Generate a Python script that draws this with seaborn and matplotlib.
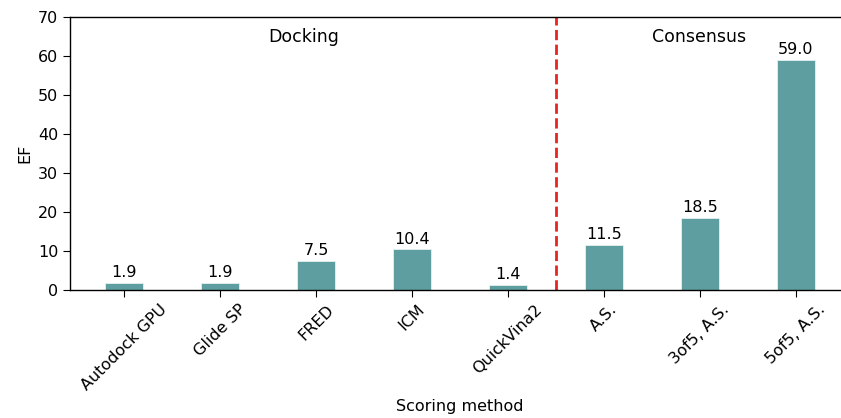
import matplotlib
matplotlib.use("Agg")
import matplotlib.pyplot as plt
import seaborn as sns
import pandas as pd

methods = ["Autodock GPU", "Glide SP", "FRED", "ICM", "QuickVina2",
           "A.S.", "3of5, A.S.", "5of5, A.S."]
ef_values = [1.9, 1.9, 7.5, 10.4, 1.4, 11.5, 18.5, 59.0]
group_labels = ["Docking", "Consensus"]
group_label_x = [1.5, 5.5]

sns.set_style("ticks", {
    "axes.edgecolor": "black",
    "axes.labelcolor": "black",
    "text.color": "black",
    "xtick.color": "black",
    "ytick.color": "black",
})
plt.rcParams["font.family"] = ["DejaVu Sans"]
plt.rcParams["font.size"] = 11.5
plt.rcParams["xtick.major.size"] = 5
plt.rcParams["ytick.major.size"] = 5
plt.rcParams["axes.linewidth"] = 1.0

df = pd.DataFrame({"Scoring method": methods, "EF": ef_values})

fig = plt.figure(figsize=(8.41, 4.18), dpi=100)
ax = fig.add_axes([70 / 841, (418 - 290) / 418, (850 - 70) / 841, 273 / 418])

sns.barplot(data=df, x="Scoring method", y="EF", color="#5f9ea0",
            saturation=1, width=0.4, edgecolor="#e6f0f0", linewidth=0.6, ax=ax)

for cont in ax.containers:
    ax.bar_label(cont, fmt="%.1f", padding=2, fontsize=11.5, color="black")

ax.axvline(4.5, color="#e8251f", linestyle="--", linewidth=2)

for lbl, xpos in zip(group_labels, group_label_x):
    ax.text(xpos, 65, lbl, ha="left", va="center", fontsize=12.5, color="black")

ax.set_xlim(-0.5625, 7.5625)
ax.set_ylim(0, 70)
ax.set_yticks(range(0, 71, 10))
ax.tick_params(axis="both", labelsize=11.5, colors="black")
plt.setp(ax.get_xticklabels(), rotation=45)
ax.set_xlabel("Scoring method", fontsize=11.5)
ax.set_ylabel("EF", fontsize=11.5)

fig.savefig("out.png", dpi=100)
